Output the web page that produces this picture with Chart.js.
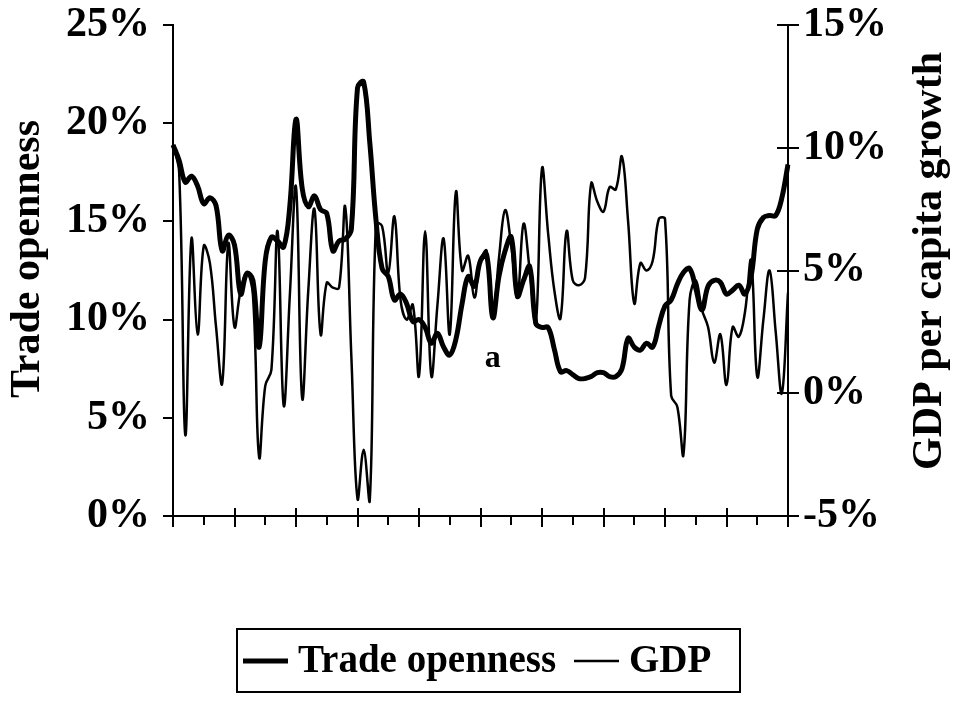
<!DOCTYPE html>
<html>
<head>
<meta charset="utf-8">
<script src="https://cdn.jsdelivr.net/npm/chart.js@4.4.1/dist/chart.umd.min.js"></script>
<style>
  html, body { margin: 0; padding: 0; background: #fff; }
  #wrap { width: 955px; height: 704px; }
</style>
</head>
<body>
<div id="wrap"><canvas id="myChart" width="955" height="704"></canvas></div>
<script>
// one category per period, no tick labels are shown on the x axis
const periods = [];
for (let i = 0; i <= 100; i++) periods.push(String(i));

// trade openness, % (left axis)
const tradeOpenness = [
  18.9, 18.1, 17.0, 17.3, 16.8, 15.9, 16.2, 15.8, 13.5, 14.3,
  13.8, 11.3, 12.35, 12.0, 8.6, 13.0, 14.2, 14.0, 13.7, 15.8,
  20.2, 16.7, 15.75, 16.3, 15.6, 15.4, 13.5, 14.0, 14.1, 14.6,
  21.8, 22.1, 19.0, 15.1, 12.6, 12.2, 11.0, 11.3, 10.8, 9.9,
  10.0, 9.6, 8.8, 9.3, 8.6, 8.2, 9.0, 10.8, 12.2, 11.7,
  13.0, 13.3, 10.1, 12.2, 13.5, 14.2, 11.2, 12.0, 12.7, 9.8,
  9.6, 9.6, 8.5, 7.35, 7.4, 7.2, 7.0, 7.0, 7.1, 7.3,
  7.3, 7.1, 7.1, 7.5, 9.05, 8.6, 8.45, 8.8, 8.6, 9.7,
  10.7, 11.0, 11.8, 12.4, 12.6, 11.6, 10.5, 11.7, 12.0, 11.9,
  11.3, 11.5, 11.75, 11.3, 12.2, 14.6, 15.2, 15.3, 15.3, 16.2,
  17.9
];

// GDP per capita growth, % (right axis)
const gdpGrowth = [
  10.1, 9.0, -1.7, 6.3, 2.4, 6.0, 5.3, 2.7, 0.4, 6.1,
  2.7, 4.2, 4.9, 4.0, -2.6, 0.3, 0.95, 6.6, -0.5, 4.0,
  8.4, -0.2, 4.2, 7.5, 2.4, 4.5, 4.3, 4.3, 7.6, 1.5,
  -4.3, -2.3, -4.35, 6.9, 6.8, 4.9, 7.2, 3.8, 3.0, 3.6,
  0.7, 6.6, 0.7, 3.6, 6.3, 2.4, 8.2, 5.0, 5.6, 3.9,
  5.4, 5.8, 3.1, 5.5, 7.46, 6.0, 3.9, 6.9, 5.0, 2.85,
  9.16, 6.5, 4.2, 3.05, 6.6, 4.6, 4.4, 4.7, 8.55, 7.8,
  7.4, 8.4, 8.3, 9.64, 7.0, 3.66, 5.3, 5.0, 5.4, 7.1,
  7.1, -0.1, -0.55, -2.5, 3.8, 4.6, 3.4, 2.7, 1.25, 2.4,
  0.34, 2.7, 2.3, 3.3, 5.4, 0.67, 3.0, 5.0, 2.5, 0.0,
  4.1
];

const FONT = '"Liberation Serif", "Times New Roman", serif';
const bigFont = { family: FONT, size: 42, weight: 'bold' };

// ticks that cross the axes, titles, the "a" note and the boxed legend
const extras = {
  id: 'extras',
  afterDraw(chart) {
    const ctx = chart.ctx;
    const xs = chart.scales.x;
    const yr = chart.scales.yR;
    const area = chart.chartArea;
    ctx.save();
    ctx.strokeStyle = '#000';
    ctx.lineWidth = 2;

    // x axis ticks: major every 10 cross the axis, minor every 5 below it
    for (let i = 0; i < periods.length; i += 5) {
      const px = Math.round(xs.getPixelForValue(i));
      ctx.beginPath();
      if (i % 10 === 0) {
        ctx.moveTo(px, area.bottom - 8);
        ctx.lineTo(px, area.bottom + 11);
      } else {
        ctx.moveTo(px, area.bottom);
        ctx.lineTo(px, area.bottom + 9);
      }
      ctx.stroke();
    }
    // right axis ticks also go inward
    yr.ticks.forEach(t => {
      const py = Math.round(yr.getPixelForValue(t.value));
      ctx.beginPath();
      ctx.moveTo(area.right - 11, py);
      ctx.lineTo(area.right, py);
      ctx.stroke();
    });

    ctx.fillStyle = '#000';
    ctx.font = 'bold 42px ' + FONT;
    ctx.textAlign = 'center';
    ctx.textBaseline = 'middle';
    ctx.save();
    ctx.translate(28, 259);
    ctx.rotate(-Math.PI / 2);
    ctx.fillText('Trade openness', 0, 0);
    ctx.restore();
    ctx.save();
    ctx.translate(930, 261);
    ctx.rotate(-Math.PI / 2);
    ctx.fillText('GDP per capita growth', 0, 0);
    ctx.restore();

    // note inside the plot
    ctx.font = 'bold 32px ' + FONT;
    ctx.fillText('a', xs.getPixelForValue(52), chart.scales.yL.getPixelForValue(8.0));

    // legend with a frame
    ctx.lineWidth = 2;
    ctx.strokeRect(237, 629, 503, 63);
    ctx.font = 'bold 39px ' + FONT;
    ctx.textAlign = 'left';
    const items = [{ x: 243, ds: chart.data.datasets[0] }, { x: 574, ds: chart.data.datasets[1] }];
    items.forEach(it => {
      ctx.lineWidth = it.ds.borderWidth;
      ctx.beginPath();
      ctx.moveTo(it.x, 661);
      ctx.lineTo(it.x + 45, 661);
      ctx.stroke();
      ctx.fillText(it.ds.label, it.x + 55, 662);
    });
    ctx.restore();
  }
};

new Chart(document.getElementById('myChart').getContext('2d'), {
  type: 'line',
  data: {
    labels: periods,
    datasets: [
      {
        label: 'Trade openness',
        data: tradeOpenness,
        yAxisID: 'yL',
        borderColor: '#000',
        borderWidth: 5,
        pointRadius: 0,
        tension: 0.4,
        fill: false
      },
      {
        label: 'GDP',
        data: gdpGrowth,
        yAxisID: 'yR',
        borderColor: '#000',
        borderWidth: 2.5,
        pointRadius: 0,
        tension: 0.4,
        fill: false
      }
    ]
  },
  options: {
    responsive: false,
    animation: false,
    layout: { padding: { top: 25, left: 0, right: 0, bottom: 0 } },
    plugins: {
      legend: { display: false },
      tooltip: { enabled: false }
    },
    scales: {
      x: {
        type: 'category',
        offset: false,
        grid: { display: false },
        ticks: { display: false },
        border: { display: true, color: '#000', width: 2 },
        afterFit(s) { s.height = 188; s.paddingLeft = 0; s.paddingRight = 0; }
      },
      yL: {
        position: 'left',
        min: 0,
        max: 25,
        ticks: {
          stepSize: 5,
          color: '#000',
          font: bigFont,
          padding: 13,
          callback: v => v + '%'
        },
        grid: { drawOnChartArea: false, drawTicks: true, tickLength: 10, color: '#000', lineWidth: 2 },
        border: { display: true, color: '#000', width: 2 },
        afterFit(s) { s.width = 173; s.paddingTop = 0; s.paddingBottom = 0; }
      },
      yR: {
        position: 'right',
        min: -5,
        max: 15,
        ticks: {
          stepSize: 5,
          color: '#000',
          font: bigFont,
          padding: 4,
          callback: v => v + '%'
        },
        grid: { drawOnChartArea: false, drawTicks: true, tickLength: 11, color: '#000', lineWidth: 2 },
        border: { display: true, color: '#000', width: 2 },
        afterFit(s) { s.width = 167; s.paddingTop = 0; s.paddingBottom = 0; }
      }
    }
  },
  plugins: [extras]
});
</script>
</body>
</html>
